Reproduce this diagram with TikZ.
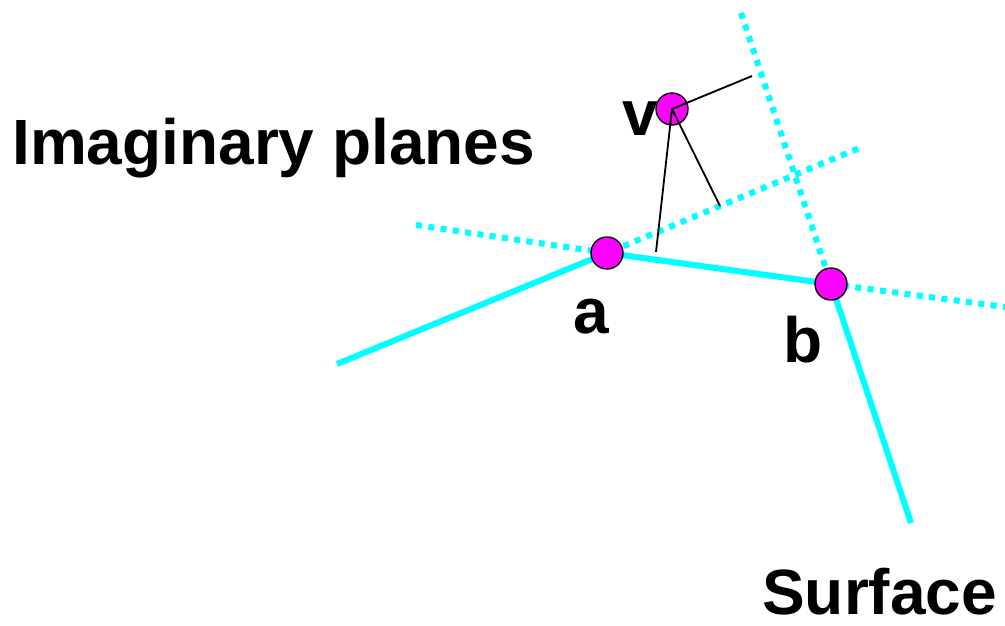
\documentclass[tikz,border=0pt]{standalone}
\usepackage{fontspec}
\setmainfont{Liberation Sans}
\usepackage{tikz}
\usetikzlibrary{backgrounds}
\definecolor{surfcyan}{HTML}{00FFFF}
\definecolor{ptmagenta}{HTML}{FF00FF}
\tikzset{
  pt/.style={circle,draw=black,fill=ptmagenta,line width=1pt,minimum size=0.8cm,inner sep=0pt},
  surf/.style={draw=surfcyan,line width=4.3pt},
  plane/.style={draw=surfcyan,line width=4.3pt,dash pattern=on 0.15cm off 0.16cm},
  normal/.style={draw=black,line width=1.3pt},
  lbl/.style={anchor=base west,inner sep=0pt,font=\fontsize{45.5}{50}\selectfont\bfseries},
}
\begin{document}
\begin{tikzpicture}[x=0.025cm,y=-0.025cm]
  \useasboundingbox (0,0) rectangle (1005,625);
  \node[pt] (a) at (607,253) {};
  \node[pt] (b) at (831,284) {};
  \node[pt] (v) at (672,109) {};
  \coordinate (s0) at (337,364);
  \coordinate (s3) at (911,523);
  \coordinate (pa1) at (416,225);
  \coordinate (pa2) at (862,147);
  \coordinate (pb1) at (741,13);
  \coordinate (pb2) at (1005,307);
  \coordinate (fa) at (720,206);
  \coordinate (fb) at (752,76);
  \coordinate (fs) at (656,252);
  \begin{scope}[on background layer]
    \draw[plane] (pa1) -- (a.center) -- (pa2);
    \draw[plane] (pb1) -- (b.center) -- (pb2);
    \draw[surf] (s0) -- (a.center) -- (b.center) -- (s3);
  \end{scope}
  \draw[normal] (fb) -- (v.center) -- (fa);
  \draw[normal] (v.center) -- (fs);
  \node[lbl] (title) at (12,164) {Imaginary planes};
  \node[lbl] (lv) at (622,135) {v};
  \node[lbl] (la) at (573,333) {a};
  \node[lbl] (lb) at (783,362) {b};
  \node[lbl] (lsurf) at (762,614) {Surface};
\end{tikzpicture}
\end{document}
